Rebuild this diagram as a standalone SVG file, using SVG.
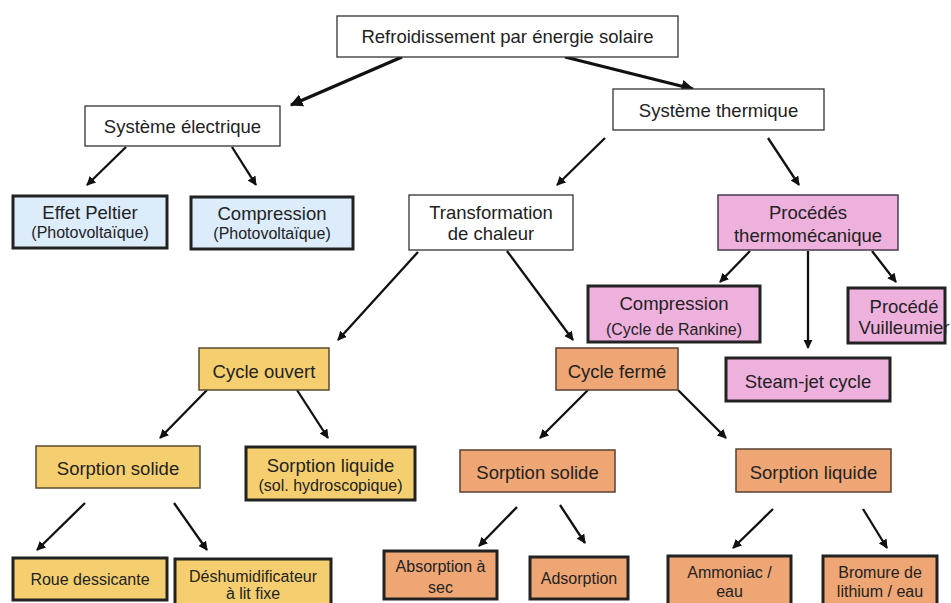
<svg xmlns="http://www.w3.org/2000/svg" width="951" height="603" viewBox="0 0 951 603">
<defs>
<marker id="ah" viewBox="0 0 10 10" refX="9" refY="5" markerWidth="4" markerHeight="4" orient="auto" markerUnits="strokeWidth">
<path d="M0,0 L10,5 L0,10 z" fill="#111"/>
</marker>
<style>
text{font-family:"Liberation Sans",Arial,sans-serif;fill:#222;text-anchor:middle}
.t{font-size:18.5px}
.s{font-size:16px}
.m{font-size:18.5px}
.w{fill:#fff;stroke:#333;stroke-width:1.3}
.blue{fill:#dcecfb;stroke:#222;stroke-width:3}
.pinkT{fill:#eeb0dc;stroke:#4a3a50;stroke-width:1.5}
.pink{fill:#eeb0dc;stroke:#222;stroke-width:3}
.yelT{fill:#f5cf6f;stroke:#5a4a30;stroke-width:1.5}
.yel{fill:#f5cf6f;stroke:#222;stroke-width:3}
.orT{fill:#eea675;stroke:#5a4030;stroke-width:1.5}
.or{fill:#eea675;stroke:#222;stroke-width:3}
.c{stroke:#111;stroke-width:2.3;fill:none;marker-end:url(#ah)}
.c3{stroke:#111;stroke-width:3.2;fill:none;marker-end:url(#ah)}
</style>
</defs>
<rect width="951" height="603" fill="#fff"/>
<g id="connectors">
<line class="c3" x1="402" y1="57" x2="291" y2="105"/>
<line class="c3" x1="565" y1="57" x2="693" y2="89"/>
<line class="c" x1="126" y1="147" x2="87" y2="185"/>
<line class="c" x1="232" y1="147" x2="256" y2="185"/>
<line class="c" x1="605" y1="138" x2="557" y2="185"/>
<line class="c" x1="768" y1="138" x2="799" y2="185"/>
<line class="c" x1="418" y1="252" x2="338" y2="340"/>
<line class="c" x1="507" y1="251" x2="573" y2="340"/>
<line class="c" x1="750" y1="251" x2="720" y2="282"/>
<line class="c" x1="808" y1="251" x2="808" y2="348"/>
<line class="c" x1="872" y1="251" x2="896" y2="282"/>
<line class="c" x1="207" y1="390" x2="160" y2="438"/>
<line class="c" x1="297" y1="390" x2="328" y2="438"/>
<line class="c" x1="588" y1="390" x2="540" y2="438"/>
<line class="c" x1="678" y1="390" x2="726" y2="438"/>
<line class="c" x1="85" y1="503" x2="37" y2="550"/>
<line class="c" x1="174" y1="503" x2="207" y2="550"/>
<line class="c" x1="517" y1="507" x2="479" y2="546"/>
<line class="c" x1="560" y1="505" x2="585" y2="543"/>
<line class="c" x1="773" y1="509" x2="733" y2="548"/>
<line class="c" x1="863" y1="509" x2="887" y2="548"/>
</g>
<g id="n-root"><rect class="w" x="337" y="16" width="341" height="41"/><text class="t" x="507.5" y="43">Refroidissement par énergie solaire</text></g>
<g id="n-elec"><rect class="w" x="85" y="106" width="195" height="40"/><text class="t" x="182.5" y="132.5">Système électrique</text></g>
<g id="n-therm"><rect class="w" x="613" y="89" width="211" height="41"/><text class="t" x="718.5" y="116.5">Système thermique</text></g>
<g id="n-peltier"><rect class="blue" x="13" y="196" width="154" height="52"/><text class="t" x="90" y="219">Effet Peltier</text><text class="s" x="90" y="238">(Photovoltaïque)</text></g>
<g id="n-comp-pv"><rect class="blue" x="191" y="197" width="162" height="52"/><text class="t" x="272" y="220">Compression</text><text class="s" x="272" y="239">(Photovoltaïque)</text></g>
<g id="n-transfo"><rect class="w" x="409" y="195" width="164" height="55"/><text class="t" x="491" y="219">Transformation</text><text class="t" x="491" y="240">de chaleur</text></g>
<g id="n-procedes"><rect class="pinkT" x="718" y="195" width="180" height="55"/><text class="t" x="808" y="219">Procédés</text><text class="t" x="808" y="242">thermomécanique</text></g>
<g id="n-rankine"><rect class="pink" x="588" y="286" width="172" height="56"/><text class="t" x="674" y="310">Compression</text><text class="s" x="674" y="335">(Cycle de Rankine)</text></g>
<g id="n-vuil"><rect class="pink" x="848" y="288" width="97" height="55"/><text class="t" x="904" y="313">Procédé</text><text class="t" x="904" y="334">Vuilleumier</text></g>
<g id="n-steam"><rect class="pink" x="726" y="358" width="164" height="43"/><text class="t" x="808" y="388">Steam-jet cycle</text></g>
<g id="n-ouvert"><rect class="yelT" x="199" y="348" width="130" height="42"/><text class="t" x="264" y="378">Cycle ouvert</text></g>
<g id="n-ferme"><rect class="orT" x="556" y="348" width="122" height="42"/><text class="t" x="617" y="378">Cycle fermé</text></g>
<g id="n-sol-y"><rect class="yelT" x="36" y="446" width="164" height="42"/><text class="m" x="118" y="475">Sorption solide</text></g>
<g id="n-liq-y"><rect class="yel" x="246" y="447" width="169" height="53"/><text class="m" x="330.5" y="472">Sorption liquide</text><text class="s" x="330.5" y="491">(sol. hydroscopique)</text></g>
<g id="n-sol-o"><rect class="orT" x="460" y="450" width="155" height="42"/><text class="m" x="537.5" y="479">Sorption solide</text></g>
<g id="n-liq-o"><rect class="orT" x="736" y="449" width="155" height="43"/><text class="m" x="813.5" y="479">Sorption liquide</text></g>
<g id="n-roue"><rect class="yel" x="13" y="558" width="154" height="42"/><text class="s" x="90" y="585">Roue dessicante</text></g>
<g id="n-deshu"><rect class="yel" x="175" y="559" width="156" height="50"/><text class="s" x="253" y="582">Déshumidificateur</text><text class="s" x="253" y="599">à lit fixe</text></g>
<g id="n-absorp"><rect class="or" x="384" y="551" width="113" height="48"/><text class="s" x="440.5" y="572">Absorption à</text><text class="s" x="440.5" y="593">sec</text></g>
<g id="n-adsorp"><rect class="or" x="530" y="557" width="98" height="42"/><text class="s" x="579" y="584">Adsorption</text></g>
<g id="n-ammon"><rect class="or" x="668" y="556" width="123" height="52"/><text class="s" x="729.5" y="578">Ammoniac /</text><text class="s" x="729.5" y="597">eau</text></g>
<g id="n-bromure"><rect class="or" x="823" y="556" width="114" height="52"/><text class="s" x="880" y="578">Bromure de</text><text class="s" x="880" y="597">lithium / eau</text></g>
</svg>
